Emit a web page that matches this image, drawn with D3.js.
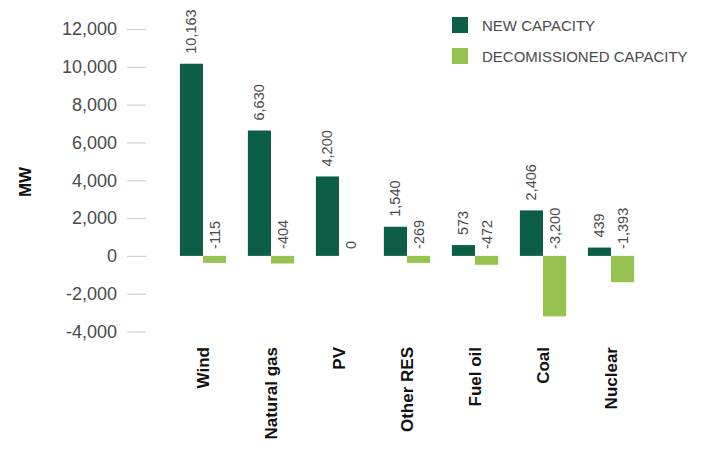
<!DOCTYPE html>
<html>
<head>
<meta charset="utf-8">
<script src="https://cdn.jsdelivr.net/npm/d3@7/dist/d3.min.js"></script>
<style>
  body { margin: 0; background: #fff; }
  text { font-family: "Liberation Sans", Arial, sans-serif; }
</style>
</head>
<body>
<svg id="chart" width="704" height="450"></svg>
<script>
var svg = d3.select("#chart");

// chart data
var categories = ["Wind", "Natural gas", "PV", "Other RES", "Fuel oil", "Coal", "Nuclear"];
var newCapacity = [10163, 6630, 4200, 1540, 573, 2406, 439];
var decomCapacity = [-115, -404, 0, -269, -472, -3200, -1393];
var yTicks = [-4000, -2000, 0, 2000, 4000, 6000, 8000, 10000, 12000];
var seriesNames = ["NEW CAPACITY", "DECOMISSIONED CAPACITY"];

var darkGreen = "#0c5e47";
var lightGreen = "#96c251";
var textGray = "#4a4a4a";

var xScale = d3.scaleBand()
  .domain(categories)
  .range([169, 645])
  .paddingInner(0.32)
  .paddingOuter(0.16);

var yScale = d3.scaleLinear()
  .domain([-4000, 12000])
  .range([331.5, 29]);

var barW = xScale.bandwidth() / 2;
// plain hyphen for negatives, like the original
var fmt = d3.formatLocale({ decimal: ".", thousands: ",", grouping: [3], currency: ["", ""], minus: "-" }).format(",");

//y axis ticks drawn as short light lines
var leftAxis = d3.axisLeft(yScale)
  .tickValues(yTicks)
  .tickFormat(fmt)
  .tickSize(19)
  .tickPadding(10);

var yAxis = svg.append("g")
  .attr("transform", "translate(146,0)")
  .call(leftAxis);
yAxis.select(".domain").remove();
yAxis.selectAll("line").attr("stroke", "#d0d0d0").attr("stroke-width", 1.2);
yAxis.selectAll("text")
  .attr("fill", textGray)
  .style("font-size", "18px");

//y-axis label, rotated
svg.append("text")
  .attr("transform", "translate(31,182)rotate(-90)")
  .attr("text-anchor", "middle")
  .style("font-size", "17px")
  .style("font-weight", "bold")
  .attr("fill", "#111")
  .text("MW");

var rows = categories.map(function (c, i) {
  return { cat: c, nv: newCapacity[i], dv: decomCapacity[i] };
});

var zero = yScale(0);

// new capacity bars
svg.selectAll(".newbar")
  .data(rows)
  .enter().append("rect")
  .attr("class", "newbar")
  .attr("x", function (d) { return xScale(d.cat); })
  .attr("y", function (d) { return yScale(d.nv); })
  .attr("width", barW)
  .attr("height", function (d) { return zero - yScale(d.nv); })
  .attr("fill", darkGreen);

// decommissioned bars (small ones get a minimum visible height)
svg.selectAll(".decbar")
  .data(rows.filter(function (d) { return d.dv !== 0; }))
  .enter().append("rect")
  .attr("class", "decbar")
  .attr("x", function (d) { return xScale(d.cat) + barW; })
  .attr("y", zero)
  .attr("width", barW)
  .attr("height", function (d) { return Math.max(yScale(d.dv) - zero, 7); })
  .attr("fill", lightGreen);

// value labels
svg.selectAll(".newlbl")
  .data(rows)
  .enter().append("text")
  .attr("class", "newlbl")
  .attr("transform", function (d) {
    return "translate(" + (xScale(d.cat) + barW / 2 + 5) + "," + (yScale(d.nv) - 10) + ")rotate(-90)";
  })
  .style("font-size", "14.5px")
  .attr("fill", textGray)
  .text(function (d) { return fmt(d.nv); });

svg.selectAll(".declbl")
  .data(rows)
  .enter().append("text")
  .attr("class", "declbl")
  .attr("transform", function (d) {
    return "translate(" + (xScale(d.cat) + barW * 1.5 + 5) + "," + (zero - 7) + ")rotate(-90)";
  })
  .style("font-size", "14.5px")
  .attr("fill", textGray)
  .text(function (d) { return fmt(d.dv); });

// category labels
svg.selectAll(".catlbl")
  .data(categories)
  .enter().append("text")
  .attr("class", "catlbl")
  .attr("transform", function (d) {
    return "translate(" + (xScale(d) + barW + 6) + ",347)rotate(-90)";
  })
  .attr("text-anchor", "end")
  .style("font-size", "17px")
  .style("font-weight", "bold")
  .attr("fill", "#111")
  .text(function (d) { return d; });

// legend
var legend = svg.selectAll(".legend")
  .data(seriesNames)
  .enter().append("g")
  .attr("class", "legend")
  .attr("transform", function (d, i) { return "translate(452," + (17 + i * 31) + ")"; });

legend.append("rect")
  .attr("width", 16)
  .attr("height", 16)
  .attr("fill", function (d, i) { return i === 0 ? darkGreen : lightGreen; });

legend.append("text")
  .attr("x", 30)
  .attr("y", 13.5)
  .style("font-size", "15px")
  .attr("fill", textGray)
  .text(function (d) { return d; });
</script>
</body>
</html>
